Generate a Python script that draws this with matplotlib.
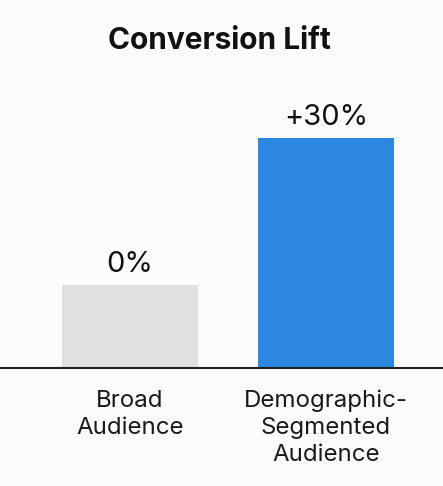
import matplotlib
matplotlib.use("Agg")
import matplotlib.pyplot as plt

categories = ["Broad\nAudience", "Demographic-\nSegmented\nAudience"]
bar_heights = [36, 100]
value_labels = ["0%", "+30%"]
colors = ["#e0e0e0", "#2b87e0"]
title = "Conversion Lift"

plt.rcParams['font.family'] = ['Inter', 'DejaVu Sans']

fig = plt.figure(figsize=(4.43, 4.86), dpi=100, facecolor="#fbfbfb")
ax = fig.add_axes([0, (486 - 368) / 486, 1, 368 / 486])
ax.set_facecolor("#fbfbfb")

x = list(range(len(categories)))
bars = ax.bar(x, bar_heights, width=0.694, color=colors, zorder=2)
ax.set_xlim(-0.663, 1.597)
ax.set_ylim(0, 100 * 368 / 230)

for b, lab in zip(bars, value_labels):
    ax.annotate(lab, (b.get_x() + b.get_width() / 2, b.get_height()),
                xytext=(0, 9.4), textcoords="offset points",
                ha="center", va="baseline", fontsize=21, color="#111111")

for s in ["top", "right", "left"]:
    ax.spines[s].set_visible(False)
ax.spines["bottom"].set_color("#222222")
ax.spines["bottom"].set_linewidth(1.5)
ax.spines["bottom"].set_zorder(3)
ax.set_yticks([])
ax.set_xticks(x)
ax.set_xticklabels(categories, fontsize=17.3, color="#1a1a1a", linespacing=1.3)
ax.tick_params(axis="x", length=0, pad=15.5)

fig.text(0.495, 1 - 49 / 486, title, ha="center", va="baseline",
         fontsize=21.5, fontweight="bold", color="#111111")

fig.savefig("out.png", dpi=100, facecolor=fig.get_facecolor())
